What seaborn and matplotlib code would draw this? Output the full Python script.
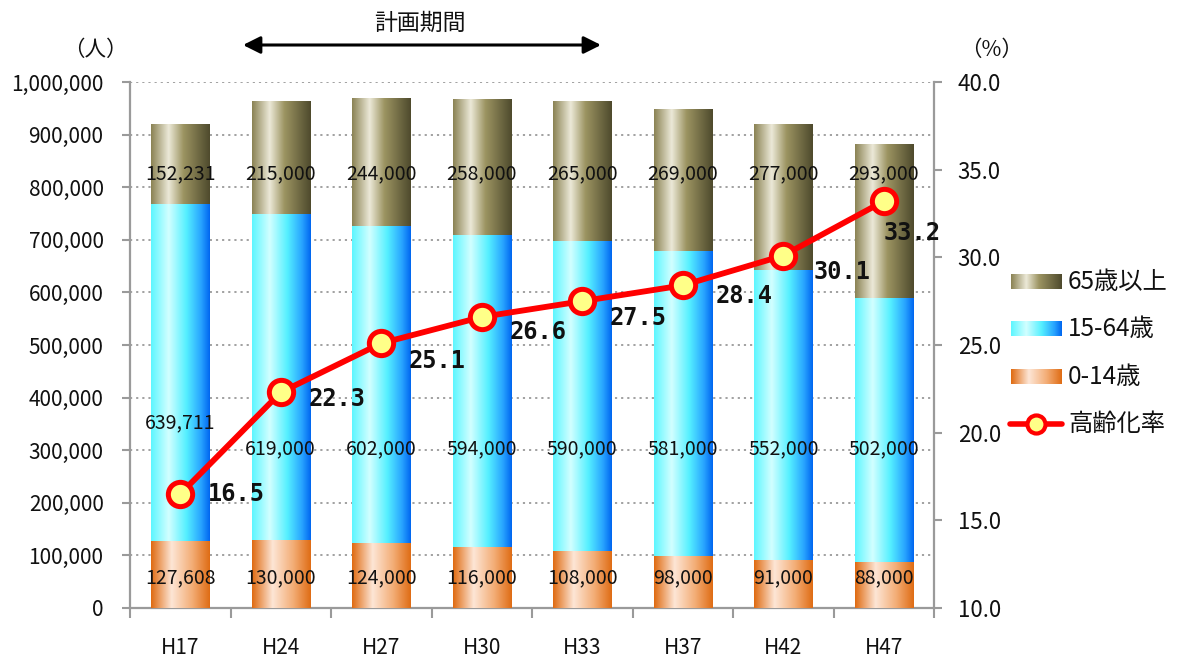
import numpy as np
import pandas as pd
import matplotlib
matplotlib.use("Agg")
import matplotlib.pyplot as plt
import seaborn as sns
from matplotlib.colors import LinearSegmentedColormap
from matplotlib.ticker import FuncFormatter, FixedLocator

# ---- data ----
years = ["H17", "H24", "H27", "H30", "H33", "H37", "H42", "H47"]
age_0_14 = [127608, 130000, 124000, 116000, 108000, 98000, 91000, 88000]
age_15_64 = [639711, 619000, 602000, 594000, 590000, 581000, 552000, 502000]
age_65_over = [152231, 215000, 244000, 258000, 265000, 269000, 277000, 293000]
aging_rate = [16.5, 22.3, 25.1, 26.6, 27.5, 28.4, 30.1, 33.2]

series_names = ["65歳以上", "15-64歳", "0-14歳"]
rate_name = "高齢化率"
period_title = "計画期間"

# ---- styling ----
sns.set_theme(style="white")
plt.rcParams["font.family"] = ["Noto Sans CJK JP", "DejaVu Sans"]

cm_old = LinearSegmentedColormap.from_list(
    "old", [(0, "#8A8253"), (0.3, "#ECE9D8"), (0.55, "#9C9462"), (1, "#4E4A2D")])
cm_mid = LinearSegmentedColormap.from_list(
    "mid", [(0, "#5CF6FF"), (0.3, "#D2FFFF"), (0.6, "#55F0FF"), (0.85, "#28A4FF"), (1, "#0066F0")])
cm_young = LinearSegmentedColormap.from_list(
    "young", [(0, "#DF6A10"), (0.35, "#FDE6D6"), (0.7, "#F3AD76"), (1, "#DF6C14")])
grad = np.linspace(0, 1, 256).reshape(1, -1)

W, H = 1180, 662
fig = plt.figure(figsize=(W / 100, H / 100), dpi=100)
ax = fig.add_axes([130 / W, 1 - 608 / H, (934 - 130) / W, (608 - 82) / H])

# cumulative tops for stacked drawing
top_mid = np.array(age_0_14) + np.array(age_15_64)
top_all = top_mid + np.array(age_65_over)
df = pd.DataFrame({"year": years, "young": age_0_14, "mid": top_mid, "all": top_all})

bar_w = 0.58
layers = [("all", cm_old, 2), ("mid", cm_mid, 3), ("young", cm_young, 4)]
for col, cmap, z in layers:
    n_before = len(ax.patches)
    sns.barplot(data=df, x="year", y=col, ax=ax, width=bar_w, color="white",
                linewidth=0, saturation=1, errorbar=None)
    for p in ax.patches[n_before:]:
        p.set_facecolor("none")
        p.set_edgecolor("none")
        x0 = p.get_x()
        x1 = x0 + p.get_width()
        top = p.get_y() + p.get_height()
        im = ax.imshow(grad, cmap=cmap, extent=[x0, x1, 0, top], aspect="auto",
                       interpolation="bilinear", zorder=z)
        im.set_clip_path(p)

ax.set_xlim(-0.5, 7.5)
ax.set_ylim(0, 1_000_000)
ax.set_xlabel("")
ax.set_ylabel("")

# value labels inside bars
lab_kw = dict(ha="center", va="center", fontsize=14, color="#111111", zorder=6)
for i in range(len(years)):
    ax.text(i, 826000, f"{age_65_over[i]:,}", **lab_kw)
    ax.text(i, 352000 if i == 0 else 302000, f"{age_15_64[i]:,}", **lab_kw)
    ax.text(i, 57000, f"{age_0_14[i]:,}", **lab_kw)

# grid and axes
ax.set_axisbelow(True)
ax.yaxis.grid(True, linestyle=(0, (1.2, 2.2)), color="#9A9A9A", linewidth=1.3)
ax.xaxis.grid(False)
ax.yaxis.set_major_locator(FixedLocator(np.arange(0, 1_000_001, 100_000)))
ax.yaxis.set_major_formatter(FuncFormatter(lambda v, _: f"{int(v):,}"))
for s in ["top", "right"]:
    ax.spines[s].set_visible(False)
for s in ["left", "bottom"]:
    ax.spines[s].set_color("#9A9A9A")
    ax.spines[s].set_linewidth(1.6)
ax.tick_params(axis="y", which="major", direction="out", length=6, width=1.5,
               color="#9A9A9A", pad=13, labelsize=15, labelcolor="#111111", left=True)
ax.set_xticks(range(len(years)))
ax.set_xticklabels(years)
ax.set_xticks(np.arange(-0.5, len(years), 1.0), minor=True)
ax.tick_params(axis="x", which="major", length=0, pad=21, labelsize=15, labelcolor="#111111")
ax.tick_params(axis="x", which="minor", direction="out", length=7, width=1.5,
               color="#9A9A9A", bottom=True)

# aging rate line on the secondary axis
ax2 = ax.twinx()
sns.lineplot(x=np.arange(len(years)), y=aging_rate, ax=ax2, color="#FF0000",
             linewidth=4.2, marker="o", markersize=17.5, markerfacecolor="#FFFF88",
             markeredgecolor="#FF0000", markeredgewidth=3.6, zorder=8)
ax2.set_ylim(10, 40)
ax2.set_xlim(-0.5, 7.5)
ax2.yaxis.set_major_locator(FixedLocator(np.arange(10, 40.1, 5)))
ax2.yaxis.set_major_formatter(FuncFormatter(lambda v, _: f"{v:.1f}"))
for s in ["top", "left", "bottom"]:
    ax2.spines[s].set_visible(False)
ax2.spines["right"].set_color("#9A9A9A")
ax2.spines["right"].set_linewidth(1.6)
ax2.tick_params(axis="y", direction="out", length=6, width=1.5, color="#9A9A9A",
                pad=11, labelsize=16, labelcolor="#111111", right=True)
ax2.grid(False)
ax2.set_ylabel("")

rate_offsets = [(20, 0), (20, -5), (20, -13), (20, -11), (20, -12), (24, -8), (22, -12), (0, -23)]
for i, (v, off) in enumerate(zip(aging_rate, rate_offsets)):
    ax2.annotate(f"{v:.1f}", (i, v), xytext=off, textcoords="offset points",
                 ha="left", va="center", fontsize=17, fontweight="bold",
                 family="DejaVu Sans Mono", color="#111111", zorder=9)

# overlay in pixel coordinates for units, period arrow and legend
ov = fig.add_axes([0, 0, 1, 1], facecolor="none")
ov.set_xlim(0, W)
ov.set_ylim(H, 0)
ov.axis("off")

ov.text(95, 50, "（人）", ha="center", va="center", fontsize=15.5, color="#111111")
ov.text(992, 50, "（%）", ha="center", va="center", fontsize=15.5, color="#111111")

ov.text(420, 23, period_title, ha="center", va="center", fontsize=16.5, color="#111111")
ov.annotate("", xy=(243, 45), xytext=(601, 45),
            arrowprops=dict(arrowstyle="<|-|>", color="black", lw=2.2,
                            mutation_scale=26, shrinkA=0, shrinkB=0))

leg_items = [(series_names[0], cm_old, 282), (series_names[1], cm_mid, 329),
             (series_names[2], cm_young, 377)]
for name, cmap, yy in leg_items:
    ov.imshow(grad, cmap=cmap, extent=[1011, 1062, yy + 7.5, yy - 7.5], aspect="auto",
              interpolation="bilinear")
    ov.text(1068, yy, name, ha="left", va="center", fontsize=17.5, color="#111111")
ov.plot([1010, 1062], [424, 424], color="#FF0000", lw=4)
ov.plot([1036], [424], marker="o", markersize=13, markerfacecolor="#FFFF88",
        markeredgecolor="#FF0000", markeredgewidth=3)
ov.text(1068, 424, rate_name, ha="left", va="center", fontsize=17.5, color="#111111")
ov.set_xlim(0, W)
ov.set_ylim(H, 0)

fig.savefig("out.png", dpi=100)
